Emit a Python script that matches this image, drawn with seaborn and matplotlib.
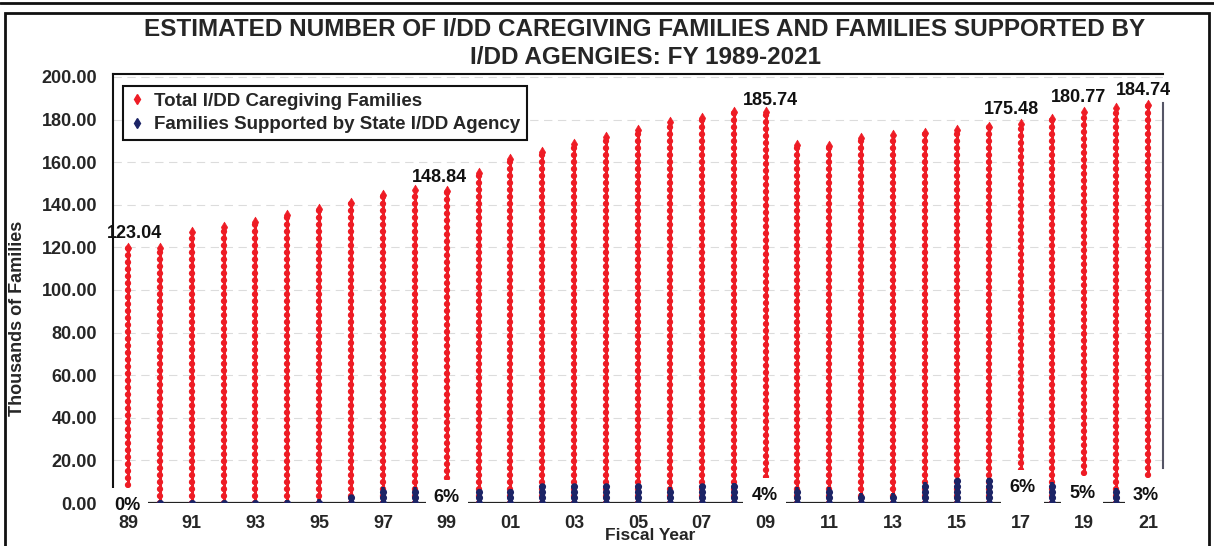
import numpy as np
import pandas as pd
import matplotlib
matplotlib.use("Agg")
import matplotlib.pyplot as plt
from matplotlib.lines import Line2D
from matplotlib.patches import Rectangle
import seaborn as sns

# values (thousands of families)
years = list(range(1989, 2022))
total_families = [119.7, 119.7, 127.0, 129.6, 132.0, 135.0, 138.0, 141.0, 144.6, 147.0,
                  146.5, 155.0, 161.5, 165.0, 168.5, 171.8, 175.0, 178.9, 180.8, 183.6,
                  183.5, 168.0, 167.6, 171.4, 172.8, 173.7, 175.0, 176.5, 178.0, 180.3,
                  183.5, 185.4, 186.9]
# the labelled columns start above the baseline in the scan
line_start = [8.5, 0, 0, 0, 0, 0, 0, 0, 0, 0,
              11.7, 0, 0, 0, 0, 0, 0, 0, 0, 0,
              12.2, 0, 0, 0, 0, 0, 0, 0, 15.5, 0,
              14.0, 0, 13.0]
supported = [0, 0.5, 0.5, 0.5, 1.0, 1.5, 2.0, 3.0, 7.5, 7.5,
             0, 6.0, 6.0, 9.0, 8.0, 9.0, 8.0, 7.5, 8.5, 9.4,
             0, 7.5, 7.5, 4.7, 4.7, 10.0, 10.8, 11.7, 0, 10.0,
             0, 7.0, 0]

value_years = [1989, 1999, 2009, 2017, 2019, 2021]
value_labels = ["123.04", "148.84", "185.74", "175.48", "180.77", "184.74"]
pct_labels = ["0%", "6%", "4%", "6%", "5%", "3%"]

tick_years = list(range(1989, 2022, 2))
tick_labels = [f"{y % 100:02d}" for y in tick_years]

df = pd.DataFrame({"year": years, "total": total_families,
                   "start": line_start, "supported": supported})

sns.set_style("white")
plt.rcParams["font.family"] = ["Liberation Sans", "DejaVu Sans"]
plt.rcParams["font.weight"] = "bold"
plt.rcParams["lines.scale_dashes"] = False

RED = "#ee1c25"
NAVY = "#1c2466"

fig = plt.figure(figsize=(12.14, 5.46), dpi=100)
ax = fig.add_axes([113 / 1214, 43 / 546, 1050 / 1214, 429 / 546])

# red columns: solid line + bead pattern
ax.vlines(df["year"], df["start"], df["total"], color=RED, lw=2.2, zorder=2)
beads = ax.vlines(df["year"], df["start"], df["total"], color=RED, lw=4.6,
                  linestyles=[(0, (0.01, 5.0))], zorder=2)
beads.set_capstyle("round")
sns.scatterplot(data=df, x="year", y="total", marker="d", s=30, color=RED,
                edgecolor=RED, ax=ax, zorder=3, legend=False)

# blue segments at the bottom
sup = df[df["supported"] > 0]
ax.vlines(sup["year"], 0, sup["supported"], color=NAVY, lw=2.6, zorder=3)
bb = ax.vlines(sup["year"], 0, sup["supported"], color=NAVY, lw=5.2,
               linestyles=[(0, (0.01, 4.0))], zorder=3)
bb.set_capstyle("round")

ax.axhline(0, color="#222222", lw=1.6, zorder=1.5)

ax.set_xlim(1988.53, 2021.47)
ax.set_ylim(0, 201.4)
ax.set_yticks(np.arange(0, 201, 20))
ax.set_yticklabels([f"{v:.2f}" for v in np.arange(0, 201, 20)], fontsize=13, fontweight="bold")
ax.set_xticks(tick_years)
ax.set_xticklabels(tick_labels, fontsize=13, fontweight="bold")
ax.tick_params(axis="y", length=0, pad=11.5)
ax.tick_params(axis="x", length=0, pad=9)
ax.set_xlabel("")
ax.set_ylabel("")
ax.yaxis.grid(True, color="#dcdcdc", lw=0.8, ls=(0, (6, 4)))
ax.xaxis.grid(False)
ax.set_axisbelow(True)
ax.xaxis.set_zorder(10)

for s in ["left", "top", "right"]:
    ax.spines[s].set_color("#111111")
    ax.spines[s].set_linewidth(1.5)
ax.spines["bottom"].set_visible(False)
ax.spines["left"].set_bounds(7.5, 201.4)
ax.spines["right"].set_bounds(16.4, 187.8)
ax.spines["right"].set_color("#555566")

# value labels above selected columns
val_offsets = [(7, 15), (-7, 13), (5, 12), (-9, 14), (-6, 15), (-5, 14)]
for y, lab, (dx, dy) in zip(value_years, value_labels, val_offsets):
    top = df.loc[df["year"] == y, "total"].iloc[0]
    ax.annotate(lab, (y, top), xytext=(dx, dy), textcoords="offset pixels",
                ha="center", va="center", fontsize=13, fontweight="bold",
                color="#111111", zorder=6, annotation_clip=False)

# percentage labels at the baseline
pct_offsets = [(-1, -2), (0, 6), (-1, 8), (2, 16), (-2, 10), (-2, 8)]
for y, lab, (dx, dy) in zip(value_years, pct_labels, pct_offsets):
    ax.annotate(lab, (y, 0), xytext=(dx, dy), textcoords="offset pixels",
                ha="center", va="center", fontsize=13, fontweight="bold",
                color="#111111", zorder=6, annotation_clip=False,
                bbox=dict(boxstyle="square,pad=0.45", fc="white", ec="none"))

handles = [Line2D([], [], marker="d", color=RED, lw=0, markersize=5),
           Line2D([], [], marker="d", color=NAVY, lw=0, markersize=5)]
leg = ax.legend(handles, ["Total I/DD Caregiving Families",
                          "Families Supported by State I/DD Agency"],
                loc="upper left", bbox_to_anchor=(0.0095, 0.972), borderaxespad=0,
                fancybox=False, framealpha=1, edgecolor="#111111",
                prop={"size": 13.5, "weight": "bold"}, handlelength=0.8,
                handletextpad=0.5, borderpad=0.35, labelspacing=0.35)
leg.get_frame().set_linewidth(1.5)
leg.set_zorder(7)

fig.text(645 / 1214, 1 - 30 / 546,
         "ESTIMATED NUMBER OF I/DD CAREGIVING FAMILIES AND FAMILIES SUPPORTED BY",
         ha="center", va="center", fontsize=17.5, fontweight="bold")
fig.text(645 / 1214, 1 - 57 / 546, "I/DD AGENGIES: FY 1989-2021",
         ha="center", va="center", fontsize=17.5, fontweight="bold")
fig.text(18 / 1214, 1 - 318 / 546, "Thousands of Families", rotation=90,
         ha="center", va="center", fontsize=13, fontweight="bold")
fig.text(650 / 1214, 1 - 535 / 546, "Fiscal Year",
         ha="center", va="center", fontsize=12.5, fontweight="bold")

# outer frame of the scanned page
fig.patches.append(Rectangle((5 / 1214, -0.01), 1204 / 1214, 1 - 13 / 546 + 0.01,
                             transform=fig.transFigure, fill=False,
                             ec="#111111", lw=2))
fig.add_artist(Line2D([0, 1], [1 - 3 / 546, 1 - 3 / 546], transform=fig.transFigure,
                      color="#111111", lw=2))

fig.savefig("out.png", dpi=100)
